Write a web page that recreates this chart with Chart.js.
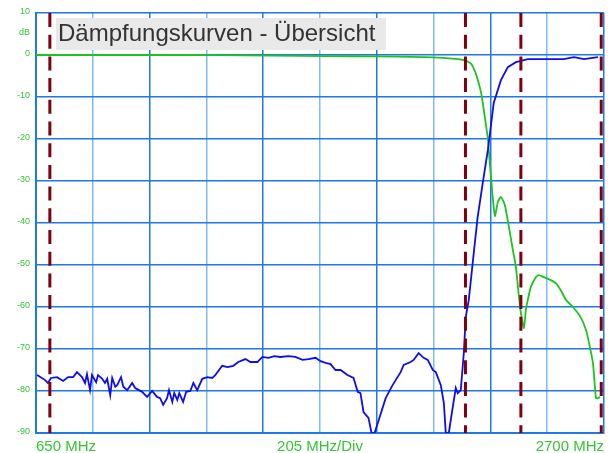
<!DOCTYPE html>
<html>
<head>
<meta charset="utf-8">
<script src="https://cdn.jsdelivr.net/npm/chart.js@4.4.1/dist/chart.umd.min.js"></script>
<style>
  html, body { margin: 0; padding: 0; background: #fff; }
  #wrap { width: 612px; height: 453px; position: relative; }
</style>
</head>
<body>
<div id="wrap"><canvas id="c"></canvas></div>
<script>
// --- Dämpfungskurven: Frequenz (MHz) / Dämpfung (dB) ---
const TITLE = "Dämpfungskurven - Übersicht";
const X_LABELS = ["650 MHz", "205 MHz/Div", "2700 MHz"];
const F_MIN = 650, F_MAX = 2700, F_DIV = 205;
const Y_TICKS = [10, 0, -10, -20, -30, -40, -50, -60, -70, -80, -90];
const Y_UNIT = "dB";

// Marker (rot gestrichelt)
const markerFreqs = [700, 2200, 2400, 2690];

// grüne Kurve
const greenFreq = [650, 800, 1000, 1200, 1400, 1600, 1800, 1950, 2050, 2120, 2160, 2194, 2219, 2235, 2248, 2258, 2266, 2281,
  2284, 2292, 2306, 2317, 2328, 2342, 2357, 2371, 2382, 2393, 2400, 2411, 2418, 2425, 2436, 2454, 2465, 2483, 2508,
  2526, 2544, 2563, 2592, 2617, 2635, 2646, 2660, 2671, 2678, 2686];
const greenDb = [0, 0, 0, 0, -0.1, -0.2, -0.3, -0.4, -0.5, -0.7, -0.9, -1.2, -2.0, -4.0, -6.7, -9.5, -13, -20,
  -22.6, -29, -38.3, -35, -33.8, -35.7, -41, -46.4, -50.5, -57.6, -61.4, -65, -60.7, -58.3, -55.2, -52.9, -52.4, -52.9, -53.6,
  -54.3, -56, -58.3, -60.3, -62.6, -65.5, -68.6, -73.3, -81.7, -81.7, -81.4];

// blaue Kurve
const blueFreq = [654, 683, 693, 704, 726, 748, 766, 784, 798, 816, 827, 834, 845, 852, 867, 874, 889, 899, 907, 918,
  925, 936, 943, 957, 965, 979, 997, 1008, 1033, 1051, 1069, 1087, 1098, 1109, 1123, 1130, 1142, 1149, 1160, 1167,
  1181, 1192, 1207, 1218, 1232, 1250, 1268, 1286, 1297, 1322, 1341, 1362, 1380, 1406, 1424, 1449, 1467, 1489, 1510,
  1532, 1561, 1586, 1612, 1633, 1659, 1677, 1695, 1713, 1731, 1749, 1774, 1796, 1811, 1821, 1832, 1850, 1861, 1872,
  1887, 1912, 1937, 1966, 1977, 2002, 2013, 2031, 2049, 2064, 2082, 2093, 2111, 2122, 2129, 2140, 2147, 2165, 2172,
  2183, 2194, 2201, 2212, 2230, 2244, 2263, 2281, 2302, 2328, 2353, 2382, 2425, 2483, 2555, 2592, 2628, 2678];
const blueDb = [-76.2, -77.4, -78.1, -76.9, -76.7, -77.6, -76.7, -76.7, -75.5, -76.7, -78.1, -76.0, -79.8, -76.2, -77.9, -76.2, -77.1, -78.1, -77.1, -81.0,
  -76.9, -79.0, -78.6, -76.7, -79.0, -79.8, -78.1, -79.3, -80.2, -81.4, -80.0, -81.4, -81.7, -83.3, -81.7, -79.8, -82.6, -80.5, -82.1, -80.5,
  -82.6, -80.2, -80.0, -78.1, -79.8, -77.1, -76.7, -76.9, -76.2, -74.0, -74.3, -74.0, -73.1, -72.4, -73.1, -73.1, -71.9, -72.1, -71.7,
  -71.9, -71.7, -71.9, -72.6, -72.4, -72.1, -72.9, -73.3, -73.6, -75.0, -75.0, -76.2, -76.9, -80.2, -80.5, -85.0, -86.4, -90, -90,
  -86.9, -81.7, -78.6, -75.5, -73.8, -73.1, -72.6, -71.0, -72.1, -72.6, -75.0, -75.5, -78.6, -82.9, -90, -90, -86.9, -79.3, -80.5,
  -79.8, -71.0, -62.4, -58.3, -47.1, -38.6, -30.2, -22.6, -11.4, -6.0, -2.9, -1.7, -1.0, -1.0, -1.0, -0.5, -1.0, -0.5];

const GREEN_TXT = "#33c633";
const GRID_DARK = "#1f78e6";
const GRID_LIGHT = "#80b9f4";
const FONT = "'Liberation Sans', Arial, sans-serif";

const pts = (xs, ys) => xs.map((x, i) => ({ x, y: ys[i] }));

const markerSets = markerFreqs.map(f => ({
  data: [{ x: f, y: Y_TICKS[0] }, { x: f, y: Y_TICKS[Y_TICKS.length - 1] }],
  borderColor: "#800010", borderWidth: 3, borderDash: [14, 7.7], pointRadius: 0
}));

// Titelbox + Achsbeschriftung unten
const overlay = {
  id: "overlay",
  afterDraw(chart){
    const { ctx, chartArea: a } = chart;
    ctx.save();
    ctx.fillStyle = "#e9e9e9";
    ctx.fillRect(56, 18, 330, 32);
    ctx.fillStyle = "#333";
    ctx.font = "24px " + FONT;
    ctx.textBaseline = "alphabetic";
    ctx.textAlign = "left";
    ctx.fillText(TITLE, 58, 41);

    ctx.fillStyle = GREEN_TXT;
    ctx.font = "15px " + FONT;
    const yb = a.bottom + 18;
    ctx.textAlign = "left";  ctx.fillText(X_LABELS[0], a.left, yb);
    ctx.textAlign = "center"; ctx.fillText(X_LABELS[1], (a.left + a.right) / 2, yb);
    ctx.textAlign = "right"; ctx.fillText(X_LABELS[2], a.right, yb);
    ctx.restore();
  }
};

new Chart(document.getElementById("c"), {
  type: "line",
  data: {
    datasets: [
      ...markerSets,
      { data: pts(blueFreq, blueDb), borderColor: "#0d0df2", borderWidth: 1.8, pointRadius: 0, tension: 0 },
      { data: pts(greenFreq, greenDb), borderColor: "#1ec41e", borderWidth: 1.8, pointRadius: 0, tension: 0.2 }
    ]
  },
  options: {
    responsive: true, maintainAspectRatio: false, animation: false,
    layout: { padding: { top: 13, right: 8, left: 0, bottom: 0 } },
    plugins: { legend: { display: false }, tooltip: { enabled: false } },
    scales: {
      x: {
        type: "linear", min: F_MIN, max: F_MAX,
        afterBuildTicks: s => { s.ticks = []; for (let v = F_MIN; v <= F_MAX + 0.1; v += F_DIV) s.ticks.push({ value: v }); },
        afterFit: s => { s.height = 20; },
        ticks: { display: false },
        grid: { drawTicks: false, lineWidth: 1.5, color: c => (c.index % 2 ? GRID_LIGHT : GRID_DARK) },
        border: { color: GRID_DARK, width: 2 }
      },
      y: {
        min: -90, max: 10,
        afterBuildTicks: s => { s.ticks = Y_TICKS.concat([5]).sort((a, b) => a - b).map(v => ({ value: v })); },
        afterFit: s => { s.width = 36; },
        ticks: {
          color: GREEN_TXT, font: { size: 9, family: FONT }, padding: 6, labelOffset: -1.5,
          callback: v => (v === 5 ? Y_UNIT : v)
        },
        grid: { drawTicks: false, lineWidth: 1.5, color: c => (c.tick && c.tick.value === 5 ? "rgba(0,0,0,0)" : GRID_DARK) },
        border: { color: GRID_DARK, width: 2 }
      }
    }
  },
  plugins: [overlay]
});
</script>
</body>
</html>
